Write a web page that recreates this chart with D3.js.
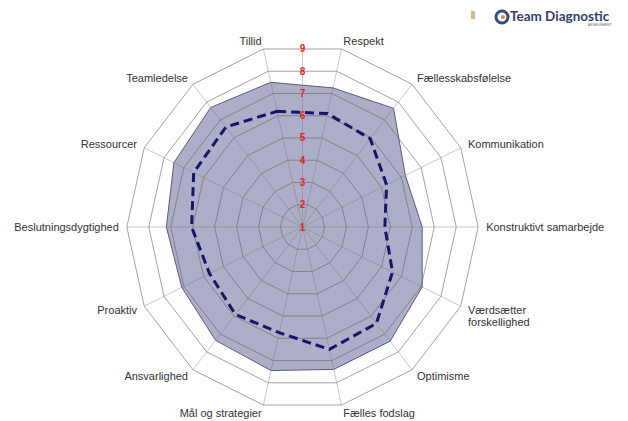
<!DOCTYPE html>
<html>
<head>
<meta charset="utf-8">
<style>
    body { margin: 0; background: #fff; }
    .label { font-family: "Liberation Sans", Arial, sans-serif; font-size: 11px; fill: #333; }
    .tick { font-family: "Liberation Sans", Arial, sans-serif; font-size: 10px; font-weight: bold; fill: #e02828; }
</style>
</head>
<body>
<svg width="628" height="421"></svg>
<script src="https://cdn.jsdelivr.net/npm/d3@7"></script>
<script>

var categories = ["Tillid", "Respekt", "Fællesskabsfølelse", "Kommunikation", "Konstruktivt samarbejde",
    "Værdsætter forskellighed", "Optimisme", "Fælles fodslag", "Mål og strategier", "Ansvarlighed",
    "Proaktiv", "Beslutningsdygtighed", "Ressourcer", "Teamledelse"];

// filled area (team)
var teamValues = [7.5, 7.25, 7.65, 6.2, 6.45, 7.05, 7.4, 7.4, 7.45, 7.35, 7.1, 7.2, 7.5, 7.7];
// dashed line (reference)
var refValues = [6.2, 6.1, 5.95, 5.25, 4.75, 5.55, 6.4, 6.5, 5.75, 5.9, 5.7, 6.05, 6.5, 6.6];

var ticks = [1, 2, 3, 4, 5, 6, 7, 8, 9];

var svg = d3.select("svg"),
    cx = 302.5,
    cy = 227,
    xSquash = 0.962,
    n = categories.length;

var r = d3.scaleLinear().domain([1, 9]).range([0, 182.6]);

function angle(i) { return (102.857 - i * 360 / n) * Math.PI / 180; }
function px(i, v) { return cx + Math.cos(angle(i)) * r(v) * xSquash; }
function py(i, v) { return cy - Math.sin(angle(i)) * r(v); }

function ring(vals) {
    return d3.line().x(function(d, i) { return px(i, d); }).y(function(d, i) { return py(i, d); })
        .curve(d3.curveLinearClosed)(vals);
}

var g = svg.append("g");

// filled series
g.append("path")
    .attr("d", ring(teamValues))
    .attr("fill", "#4a4c86")
    .attr("fill-opacity", 0.45)
    .attr("stroke", "#5a5a80")
    .attr("stroke-width", 1);

// grid
g.selectAll(".spoke")
    .data(categories)
  .enter().append("line")
    .attr("x1", cx).attr("y1", cy)
    .attr("x2", function(d, i) { return px(i, 9); })
    .attr("y2", function(d, i) { return py(i, 9); })
    .attr("stroke", "#777")
    .attr("stroke-opacity", 0.4)
    .attr("stroke-width", 1);

g.selectAll(".ring")
    .data(ticks.slice(1))
  .enter().append("path")
    .attr("d", function(t) { return ring(categories.map(function() { return t; })); })
    .attr("fill", "none")
    .attr("stroke", "#666")
    .attr("stroke-opacity", 0.6)
    .attr("stroke-width", 1);

// value axis line
g.append("line")
    .attr("x1", cx).attr("y1", cy)
    .attr("x2", cx).attr("y2", cy - r(9) * Math.cos(Math.PI / n))
    .attr("stroke", "#777")
    .attr("stroke-opacity", 0.4);

// dashed series
g.append("path")
    .attr("d", ring(refValues))
    .attr("fill", "none")
    .attr("stroke", "#15156a")
    .attr("stroke-width", 3)
    .attr("stroke-dasharray", "9,5");

// radial tick labels
g.selectAll(".tick")
    .data(ticks)
  .enter().append("text")
    .attr("class", "tick")
    .attr("x", cx)
    .attr("y", function(t) { return cy - r(t) * Math.cos(Math.PI / n); })
    .attr("dy", "0.35em")
    .attr("text-anchor", "middle")
    .text(function(t) { return t; });

// category labels
categories.forEach(function(c, i) {
    var a = angle(i),
        x = px(i, 9) + Math.cos(a) * 8,
        y = py(i, 9) - Math.sin(a) * 8,
        anchor = Math.cos(a) > 0.1 ? "start" : (Math.cos(a) < -0.1 ? "end" : "middle");
    var t = g.append("text")
        .attr("class", "label")
        .attr("text-anchor", anchor)
        .attr("x", x)
        .attr("y", y);
    var words = c === "Værdsætter forskellighed" ? ["Værdsætter", "forskellighed"] : [c];
    words.forEach(function(w, k) {
        t.append("tspan").attr("x", x).attr("dy", k === 0 ? "0.35em" : "1.1em").text(w);
    });
});

// logo top right
var logo = svg.append("g");
logo.append("rect").attr("x", 471).attr("y", 11).attr("width", 4).attr("height", 8)
    .attr("fill", "#c9a86a").attr("opacity", 0.8);
logo.append("circle").attr("cx", 502).attr("cy", 17).attr("r", 6)
    .attr("fill", "none").attr("stroke", "#3a4a7a").attr("stroke-width", 3);
logo.append("circle").attr("cx", 503).attr("cy", 17).attr("r", 2).attr("fill", "#e08a3a");
logo.append("text").attr("x", 510).attr("y", 21)
    .style("font-family", "Lato, 'Liberation Sans', sans-serif").style("font-weight", "bold")
    .style("font-size", "13.5px").attr("fill", "#34406a").text("Team Diagnostic");
logo.append("text").attr("x", 588).attr("y", 26)
    .style("font-family", "'Liberation Sans', sans-serif").style("font-size", "3.5px")
    .attr("fill", "#666").text("ASSESSMENT");

</script>
</body>
</html>
